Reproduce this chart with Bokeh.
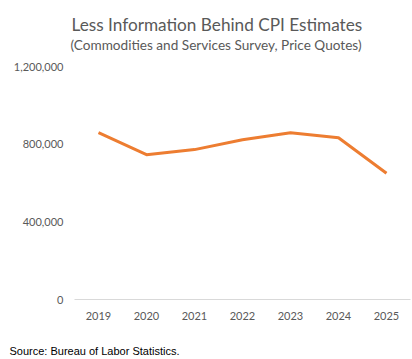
from bokeh.plotting import figure
from bokeh.models import Range1d, FixedTicker, NumeralTickFormatter, Title
from bokeh.embed import file_html
from bokeh.resources import INLINE

years = ["2019", "2020", "2021", "2022", "2023", "2024", "2025"]
quotes = [859000, 746000, 772000, 823000, 859000, 833000, 650000]
y_ticks = [0, 400000, 800000, 1200000]

title_text = "Less Information Behind CPI Estimates"
subtitle_text = "(Commodities and Services Survey, Price Quotes)"
source_text = "Source: Bureau of Labor Statistics."

GRAY = "#595959"

p = figure(width=412, height=359, x_range=years, y_range=Range1d(0, 1200000),
           output_backend="svg", toolbar_location=None, tools="",
           min_border_left=74, min_border_right=2, min_border_top=66, min_border_bottom=60)
p.outline_line_color = None
p.background_fill_color = "white"
p.border_fill_color = "white"
p.xgrid.grid_line_color = None
p.ygrid.grid_line_color = None

p.line(years, quotes, line_color="#ED7D31", line_width=3, line_join="round")

p.yaxis.ticker = FixedTicker(ticks=y_ticks)
p.yaxis.formatter = NumeralTickFormatter(format="0,0")
p.yaxis.axis_line_color = None
p.yaxis.major_tick_line_color = None
p.yaxis.minor_tick_line_color = None
p.yaxis.major_label_standoff = 5
p.yaxis.major_label_text_font = "Lato"
p.yaxis.major_label_text_font_size = "11px"
p.yaxis.major_label_text_color = GRAY

p.xaxis.axis_line_color = "#D9D9D9"
p.xaxis.axis_line_width = 1
p.xaxis.major_tick_line_color = None
p.xaxis.minor_tick_line_color = None
p.xaxis.major_label_standoff = 6
p.xaxis.major_label_text_font = "Lato"
p.xaxis.major_label_text_font_size = "11px"
p.xaxis.major_label_text_color = GRAY

# spacer between plot area and subtitle
p.add_layout(Title(text=" ", text_font="Lato", text_font_size="10.5px", text_color="white",
                   standoff=0), "above")
p.add_layout(Title(text=subtitle_text, align="left", offset=-4, text_font="Lato",
                   text_font_size="13.6px", text_font_style="normal", text_color=GRAY,
                   standoff=0), "above")
p.add_layout(Title(text=title_text, align="left", offset=-3, text_font="Lato",
                   text_font_size="17.2px", text_font_style="normal", text_color=GRAY,
                   standoff=0), "above")
# spacer between axis labels and source note
p.add_layout(Title(text=" ", text_font="Lato", text_font_size="15.5px", text_color="white",
                   standoff=0), "below")
p.add_layout(Title(text=source_text, align="left", offset=-65, text_font="Liberation Sans",
                   text_font_size="11px", text_font_style="normal", text_color="black",
                   standoff=0), "below")

open("out.html", "w").write(file_html(p, INLINE))
